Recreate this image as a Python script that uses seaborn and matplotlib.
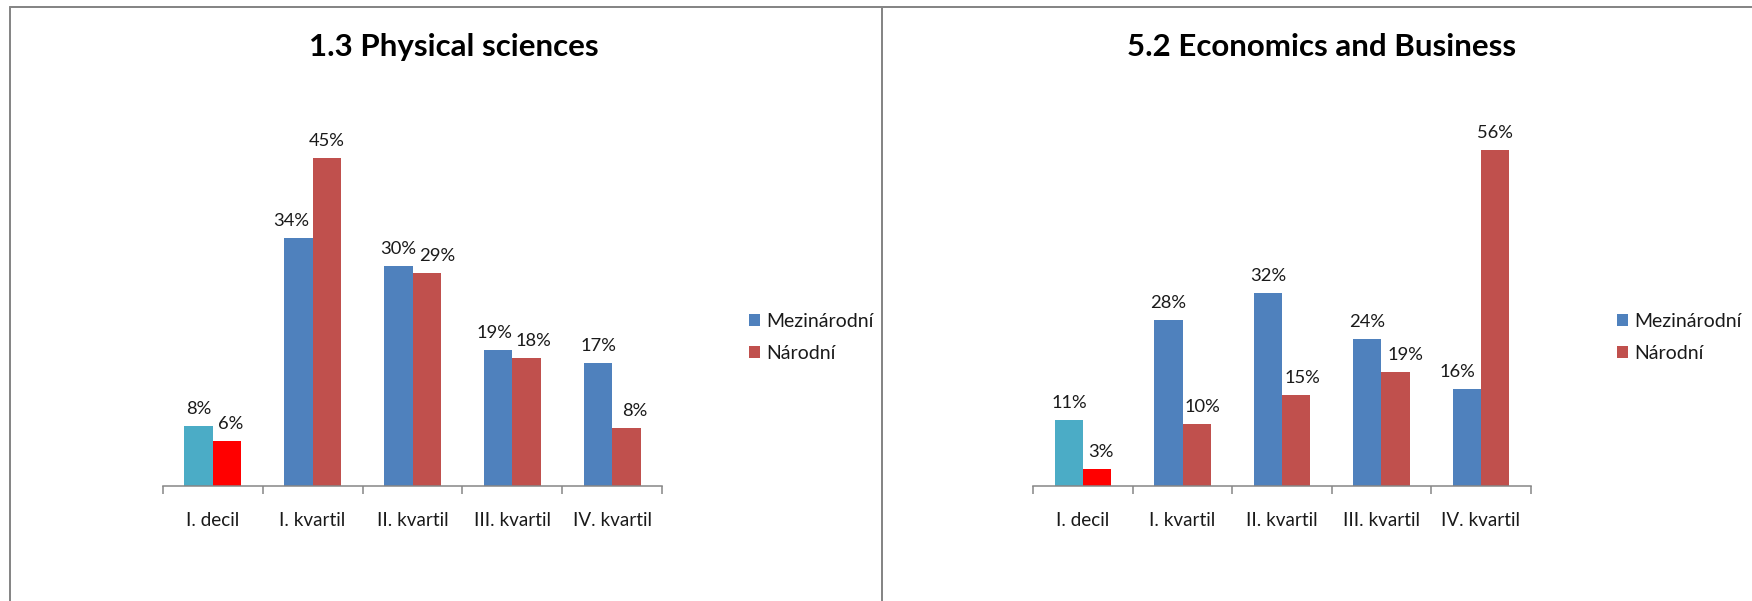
import matplotlib
matplotlib.use("Agg")
import matplotlib.pyplot as plt
from matplotlib.lines import Line2D
from matplotlib.patches import Patch
import seaborn as sns
import pandas as pd

categories = ["I. decil", "I. kvartil", "II. kvartil", "III. kvartil", "IV. kvartil"]
series_names = ["Mezinárodní", "Národní"]

titles = ["1.3 Physical sciences", "5.2 Economics and Business"]

phys_mez = [8.2, 34.1, 30.2, 18.6, 16.8]
phys_nar = [6.1, 45.0, 29.2, 17.6, 7.9]

econ_mez = [11.0, 27.7, 32.1, 24.4, 16.1]
econ_nar = [2.8, 10.3, 15.2, 19.0, 56.0]

# horizontal nudges of the value labels (pixels), as placed in the original
phys_label_dx = ([0, -7, 0, -4, 0], [4, 0, 10, 6.5, 8])
econ_label_dx = ([0, 0, 0, 0, -9.7], [4, 6, 6, 9.5, 0])

panels = [(titles[0], phys_mez, phys_nar, 50, phys_label_dx),
          (titles[1], econ_mez, econ_nar, 60, econ_label_dx)]

BLUE = "#4F81BD"
RED = "#C0504D"
CYAN = "#4BACC6"
BRIGHT_RED = "#FF0000"
GRAY = "#868686"

sns.set_theme(style="white")
plt.rcParams["font.family"] = ["Lato", "DejaVu Sans"]

W, H = 1752, 601
fig = plt.figure(figsize=(W / 100, H / 100), dpi=100)

# axes geometry in pixels: (left, right, baseline, top)
geoms = [(162.7, 662.3, 485.7, 122.0), (1033.3, 1530.7, 485.7, 126.0)]
title_x = [453.5, 1321.5]
legend_x = [749.0, 1617.0]

PX = 72 / 100  # points per pixel

for (title, mez, nar, ymax, ldx), (l, r, b, t), tx, lx in zip(panels, geoms, title_x, legend_x):
    ax = fig.add_axes([l / W, (H - b) / H, (r - l) / W, (b - t) / H])
    df = pd.DataFrame({
        "cat": categories * 2,
        "series": [series_names[0]] * len(categories) + [series_names[1]] * len(categories),
        "value": list(mez) + list(nar),
    })
    sns.barplot(data=df, x="cat", y="value", hue="series", order=categories,
                hue_order=series_names, palette=[BLUE, RED], width=0.57,
                linewidth=0, saturation=1, legend=False, ax=ax)
    ax.containers[0][0].set_facecolor(CYAN)
    ax.containers[1][0].set_facecolor(BRIGHT_RED)
    for cont, vals, dxs in zip(ax.containers, [mez, nar], ldx):
        anns = ax.bar_label(cont, labels=[f"{v:.0f}%" for v in vals], padding=6.5,
                            fontsize=13.2, color="#1a1a1a")
        for a, dx in zip(anns, dxs):
            a.xyann = (dx * PX, a.xyann[1])
    ax.set_ylim(0, ymax)
    ax.set_xlim(-0.5, len(categories) - 0.5)
    ax.set_xlabel("")
    ax.set_ylabel("")
    ax.set_yticks([])
    for s in ["top", "right", "left"]:
        ax.spines[s].set_visible(False)
    ax.spines["bottom"].set_color(GRAY)
    ax.spines["bottom"].set_linewidth(1.1)
    ax.set_xticks(range(len(categories)))
    ax.set_xticklabels(categories, fontsize=13.6, color="#1a1a1a")
    ax.tick_params(axis="x", which="major", length=0, pad=19)
    ax.set_xticks([i - 0.5 for i in range(len(categories) + 1)], minor=True)
    ax.tick_params(axis="x", which="minor", length=6, width=1.1, color=GRAY,
                   direction="out", bottom=True)
    ax.set_facecolor("none")

    fig.text(tx / W, (H - 56) / H, title, ha="center", va="baseline",
             fontsize=22.5, fontweight="bold", color="black")

    handles = [Patch(facecolor=BLUE, edgecolor="none"), Patch(facecolor=RED, edgecolor="none")]
    fig.legend(handles, series_names, loc="center left",
               bbox_to_anchor=(lx / W, (H - 337.5) / H), frameon=False,
               fontsize=14, handlelength=0.56, handleheight=0.56,
               handletextpad=0.35, labelspacing=0.8, borderpad=0,
               borderaxespad=0, labelcolor="#1a1a1a")

# panel borders
lw = 2 * 72 / 100
fig.add_artist(Line2D([10 / W, 1], [(H - 7) / H] * 2, color=GRAY, lw=lw))
fig.add_artist(Line2D([10 / W] * 2, [0, (H - 7) / H], color=GRAY, lw=lw))
fig.add_artist(Line2D([882 / W] * 2, [0, (H - 7) / H], color=GRAY, lw=lw))

fig.savefig("out.png", dpi=100, facecolor="white")
